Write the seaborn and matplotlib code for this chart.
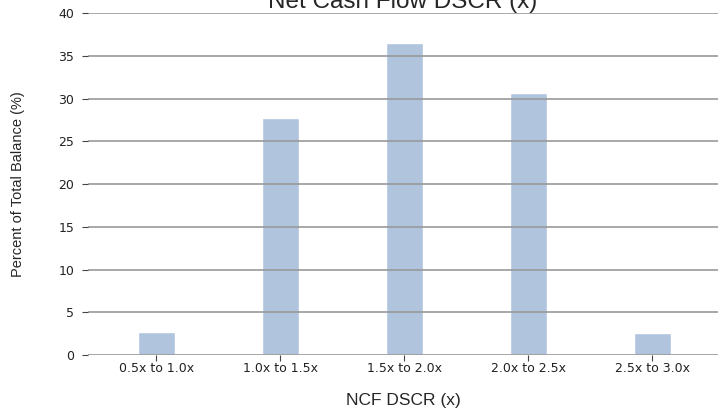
import matplotlib
matplotlib.use("Agg")
import matplotlib.pyplot as plt
import seaborn as sns
import pandas as pd

# Data
categories = ['0.5x to 1.0x', '1.0x to 1.5x', '1.5x to 2.0x', '2.0x to 2.5x', '2.5x to 3.0x']
pct_balance = [2.65, 27.75, 36.45, 30.7, 2.6]
y_ticks = [0, 5, 10, 15, 20, 25, 30, 35, 40]

df = pd.DataFrame({'dscr': categories, 'pct': pct_balance})

sns.set_style("white")
plt.rcParams['font.family'] = ['DejaVu Sans']

fig = plt.figure(figsize=(7.18, 4.09), dpi=100)
ax = fig.add_axes([0.1226, 0.132, 0.8774, 0.836])

sns.barplot(x='dscr', y='pct', data=df, color='#b0c4de', saturation=1,
            width=0.3, ax=ax)

ax.set_ylim(0, 40)
ax.set_xlim(-0.55, 4.53)
ax.set_yticks(y_ticks)
ax.yaxis.grid(True, color='#999999', linewidth=1.2)
ax.set_axisbelow(False)
ax.axhline(0, color='#eeeeee', linewidth=2, zorder=0)
for s in ax.spines.values():
    s.set_visible(False)

ax.tick_params(axis='both', labelsize=9, length=4, width=0.8, color='#444444',
               labelcolor='#222222', left=True, bottom=True)
ax.tick_params(axis='y', pad=6)
ax.tick_params(axis='x', pad=1)

arial = ['Liberation Sans', 'DejaVu Sans']
ax.set_xlabel('NCF DSCR (x)', fontsize=12.5, family=arial, labelpad=13)
ax.set_ylabel('Percent of Total Balance (%)', fontsize=10.5, family=arial,
              labelpad=24)
ax.set_title('Net Cash Flow DSCR (x)', fontsize=17.5, family=arial, pad=4)

fig.savefig('out.png', dpi=100)
